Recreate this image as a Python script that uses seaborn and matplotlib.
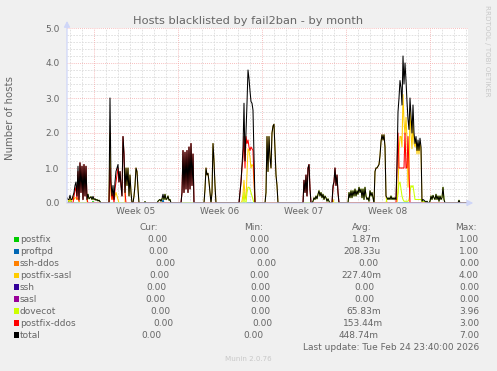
import numpy as np
import pandas as pd
import matplotlib
matplotlib.use("Agg")
import matplotlib.pyplot as plt
from matplotlib.patches import Rectangle
import seaborn as sns

# ---- DATA (one value every 2 hours) ----
n_samples = 401
first_day = -2.25  # days relative to Mon 26 Jan 2026 (start of week 05)

series_names = ['postfix', 'proftpd', 'ssh-ddos', 'postfix-sasl', 'ssh',
                'sasl', 'dovecot', 'postfix-ddos']
series_colors = ['#00cc00', '#0066b3', '#ff8000', '#ffcc00', '#330099',
                 '#990099', '#ccff00', '#ff0000']
total_name = 'total'
total_color = '#000000'

# bursts: first sample index -> values (everything else is 0)
postfix_bursts = {2: [0.05, 0.1, 0.05], 26: [0.05], 356: [0.05, 0.05]}
proftpd_bursts = {96: [0.1]}
ssh_ddos_bursts = {}
postfix_sasl_bursts = {
    0: [0.15, 0.1, 0.05, 0.12, 0.05, 0.1, 0.2, 0.1, 0.15, 0.15, 0.1, 0.15, 0.05],
    43: [2.0, 0.2, 0.1, 0.2, 0.1, 0.2, 0.3, 0.2, 0.1, 0.0, 0.0, 0.0, 0.0, 0.0,
         0.0, 0.0, 1.0, 0.5, 1.0, 0.2, 0.8, 0.3, 0.0, 0.0, 0.2, 0.5, 1.0, 0.9, 0.4],
    138: [0.4, 1.0, 0.8, 0.85, 0.6, 0.3, 0.0, 0.3, 1.7, 1.2, 0.5],
    175: [0.05, 0.25, 0.65, 0.2, 0.1, 0.85, 1.55, 1.5, 1.3, 1.0, 1.1, 1.05, 0.6],
    199: [0.3, 1.9, 0.9, 1.9, 1.3, 1.0, 2.0, 2.2, 2.25, 1.5, 0.8, 0.5],
    266: [0.1],
    308: [0.9, 1.0, 1.0, 1.05, 1.1, 1.35, 1.75, 1.95, 1.8, 1.95, 1.6, 0.2],
    331: [0.3, 1.45, 1.9, 1.9, 1.6, 3.1, 2.35, 1.95, 2.45, 1.85, 0.45, 1.0,
          2.7, 2.0, 1.55, 2.3, 1.7, 1.6, 1.8, 1.4, 1.7, 1.4, 1.75, 1.5],
}
ssh_bursts = {}
sasl_bursts = {}
dovecot_bursts = {
    21: [0.25, 0.12, 0.15, 0.18, 0.1, 0.14, 0.1, 0.12, 0.08, 0.1, 0.06, 0.08, 0.04],
    78: [0.04],
    91: [0.05, 0.08, 0.1, 0.05, 0.12, 0.15, 0.1, 0.25, 0.1, 0.12, 0.2, 0.08, 0.1],
    177: [0.3, 0.0, 0.0, 0.3, 0.45, 0.45, 0.4, 0.3, 0.2, 0.1],
    246: [0.05, 0.15, 0.1, 0.2, 0.12, 0.25, 0.35, 0.2, 0.3, 0.15, 0.25, 0.1,
          0.2, 0.15, 0.05, 0.12, 0.05],
    282: [0.3, 0.15, 0.35, 0.15, 0.35, 0.2, 0.4, 0.2, 0.35, 0.25, 0.45, 0.3,
          0.4, 0.15, 0.4, 0.1, 0.45, 0.2, 0.1, 0.15, 0.05, 0.35, 0.2, 0.3, 0.15],
    320: [0.15, 0.1, 0.15, 0.1, 0.2, 0.1, 0.15, 0.1, 0.15, 0.1,
          0.1, 0.3, 0.55, 0.6, 0.4, 0.2, 0.1, 0.05, 0.05, 0.05, 0.05, 0.05,
          0.1, 0.3, 0.5, 0.45, 0.5, 0.3, 0.1, 0.1, 0.1, 0.1, 0.1, 0.1, 0.1, 0.05],
    356: [0.05, 0.03, 0.05, 0.02, 0.05, 0.0, 0.0, 0.05, 0.2, 0.1, 0.22, 0.15,
          0.1, 0.25, 0.1, 0.2, 0.05, 0.2, 0.1, 0.15, 0.45, 0.1],
    392: [0.08],
}
postfix_ddos_bursts = {
    7: [0.2, 0.35, 0.45, 0.1, 0.9, 0.05, 1.15, 0.3, 1.05, 0.1, 1.1, 0.2, 1.05, 0.1],
    43: [1.0, 0.4, 0.1, 0.3, 0.0, 0.4, 0.6, 0.8, 1.0, 0.6, 0.9, 0.5, 0.2, 1.9, 1.4, 0.3],
    115: [0.3, 1.5, 0.3, 1.45, 0.4, 1.5, 0.3, 1.6, 0.4, 1.7, 0.5, 1.4],
    173: [0.3, 0.6, 1.0, 1.3, 1.9, 1.0, 1.9, 1.7, 1.8, 1.6, 1.5, 1.6, 1.55, 1.5, 0.7],
    237: [0.65, 0.3, 0.8, 0.2, 1.0, 1.1, 0.4],
    266: [0.4, 0.6, 1.0, 0.5, 0.8, 0.3],
    330: [1.0, 2.0, 1.0, 1.0, 1.0, 1.0, 1.0, 1.0, 2.0, 1.0, 1.0, 1.9, 1.0],
}

week_labels = ['Week 05', 'Week 06', 'Week 07', 'Week 08']
cur_text = ['0.00', '0.00', '0.00', '0.00', '0.00', '0.00', '0.00', '0.00', '0.00']
min_text = ['0.00', '0.00', '0.00', '0.00', '0.00', '0.00', '0.00', '0.00', '0.00']
avg_text = ['1.87m', '208.33u', '0.00', '227.40m', '0.00', '0.00', '65.83m', '153.44m', '448.74m']
max_text = ['1.00', '1.00', '0.00', '4.00', '0.00', '0.00', '3.96', '3.00', '7.00']
last_update = 'Last update: Tue Feb 24 23:40:00 2026'


def build(bursts):
    values = np.zeros(n_samples)
    for start, vals in bursts.items():
        values[start:start + len(vals)] = vals
    return values


all_bursts = [postfix_bursts, proftpd_bursts, ssh_ddos_bursts, postfix_sasl_bursts,
              ssh_bursts, sasl_bursts, dovecot_bursts, postfix_ddos_bursts]
series_values = [build(b) for b in all_bursts]
# munin "total" is the CDEF sum of all fields
series_values.append(np.sum(series_values, axis=0))
names = series_names + [total_name]
colors = series_colors + [total_color]

days = first_day + np.arange(n_samples) / 12.0
df = pd.DataFrame({
    'day': np.tile(days, len(names)),
    'hosts': np.concatenate(series_values),
    'series': np.repeat(names, n_samples),
})

# ---- LOOK ----
W, H = 497, 371
FONT = '#666666'
AXIS = '#cfd6f8'
plt.rcParams['font.family'] = ['DejaVu Sans']

fig = plt.figure(figsize=(W / 100, H / 100), dpi=100, facecolor='#f0f0f0')
ax = fig.add_axes([67 / W, 168 / H, 401 / W, 175 / H])
ax.set_facecolor('white')

x0, x1 = first_day, first_day + n_samples / 12.0
ax.set_xlim(x0, x1)
ax.set_ylim(0, 5)

# grid: days / weeks, 0.2 / 1.0
MINOR = '#dcdcdc'
MAJOR = '#f4a8a8'
for d in range(-2, 32):
    if d % 7 == 0:
        ax.axvline(d, color=MAJOR, lw=0.6, ls=(0, (1, 1.5)), zorder=1)
    else:
        ax.axvline(d, color=MINOR, lw=0.6, ls=(0, (2, 1.5)), zorder=0)
for k in range(1, 26):
    v = k * 0.2
    if k % 5 == 0:
        ax.axhline(v, color=MAJOR, lw=0.6, ls=(0, (1, 1.5)), zorder=1)
    else:
        ax.axhline(v, color=MINOR, lw=0.6, ls=(0, (2, 1.5)), zorder=0)

sns.lineplot(data=df, x='day', y='hosts', hue='series', hue_order=names,
             palette=colors, estimator=None, legend=False, lw=0.75, ax=ax,
             zorder=2)

for s in ax.spines.values():
    s.set_visible(False)
ax.annotate('', xy=(0, 1.04), xytext=(0, 0), xycoords='axes fraction',
            arrowprops=dict(arrowstyle='-|>,head_length=0.35,head_width=0.18',
                            color=AXIS, lw=0.9, shrinkA=0, shrinkB=0), zorder=5)
ax.annotate('', xy=(1.013, 0), xytext=(0, 0), xycoords='axes fraction',
            arrowprops=dict(arrowstyle='-|>,head_length=0.35,head_width=0.18',
                            color=AXIS, lw=0.9, shrinkA=0, shrinkB=0), zorder=5)

ax.set_yticks([0, 1, 2, 3, 4, 5])
ax.set_yticklabels(['0.0', '1.0', '2.0', '3.0', '4.0', '5.0'])
ax.set_xticks([3.5, 10.5, 17.5, 24.5])
ax.set_xticklabels(week_labels)
ax.tick_params(axis='y', length=0, pad=5.5, labelsize=6.5, labelcolor=FONT)
ax.tick_params(axis='x', length=0, pad=3.0, labelsize=6.5, labelcolor=FONT)
ax.set_xlabel('')
ax.set_ylabel('')


def fxy(x, y):
    return x / W, 1 - y / H


fig.text(*fxy(248.5, 20.5), 'Hosts blacklisted by fail2ban - by month',
         ha='center', va='center', fontsize=8.2, color=FONT)
fig.text(*fxy(10.5, 118), 'Number of hosts', rotation=90, ha='center',
         va='center', fontsize=7.3, color=FONT)
fig.text(*fxy(486.5, 51), 'RRDTOOL / TOBI OETIKER', rotation=270, ha='center',
         va='center', fontsize=5.1, color='#c8c8c8')

# legend table
header_y = 227.3
for label, x in zip(['Cur:', 'Min:', 'Avg:', 'Max:'], [139.3, 244.3, 351.7, 455.0]):
    fig.text(*fxy(x, header_y), label, ha='left', va='center', fontsize=6.5, color=FONT)

cur_x = [147.7, 148.7, 155.3, 149.3, 146.7, 145.0, 150.0, 153.3, 141.3]
min_x = [249.0, 249.7, 256.7, 249.3, 250.7, 250.0, 250.0, 252.0, 243.3]
avg_x = [351.7, 343.3, 358.3, 341.7, 354.3, 354.3, 346.7, 343.3, 339.0]
max_x = 459.0
for k, name in enumerate(names):
    y = 239.3 + 11.97 * k
    fig.add_artist(Rectangle(fxy(14, y + 2.6), 5.3 / W, 5.3 / H,
                             transform=fig.transFigure, color=colors[k], lw=0))
    fig.text(*fxy(20.0, y), name, ha='left', va='center', fontsize=6.5, color=FONT)
    fig.text(*fxy(cur_x[k], y), cur_text[k], ha='left', va='center', fontsize=6.5, color=FONT)
    fig.text(*fxy(min_x[k], y), min_text[k], ha='left', va='center', fontsize=6.5, color=FONT)
    fig.text(*fxy(avg_x[k], y), avg_text[k], ha='left', va='center', fontsize=6.5, color=FONT)
    fig.text(*fxy(max_x, y), max_text[k], ha='left', va='center', fontsize=6.5, color=FONT)

fig.text(*fxy(303.0, 347.3), last_update, ha='left', va='center', fontsize=6.5, color=FONT)
fig.text(*fxy(225.0, 359.0), 'Munin 2.0.76', ha='left', va='center', fontsize=5.1, color='#c8c8c8')

fig.savefig('out.png', dpi=100, facecolor=fig.get_facecolor())
